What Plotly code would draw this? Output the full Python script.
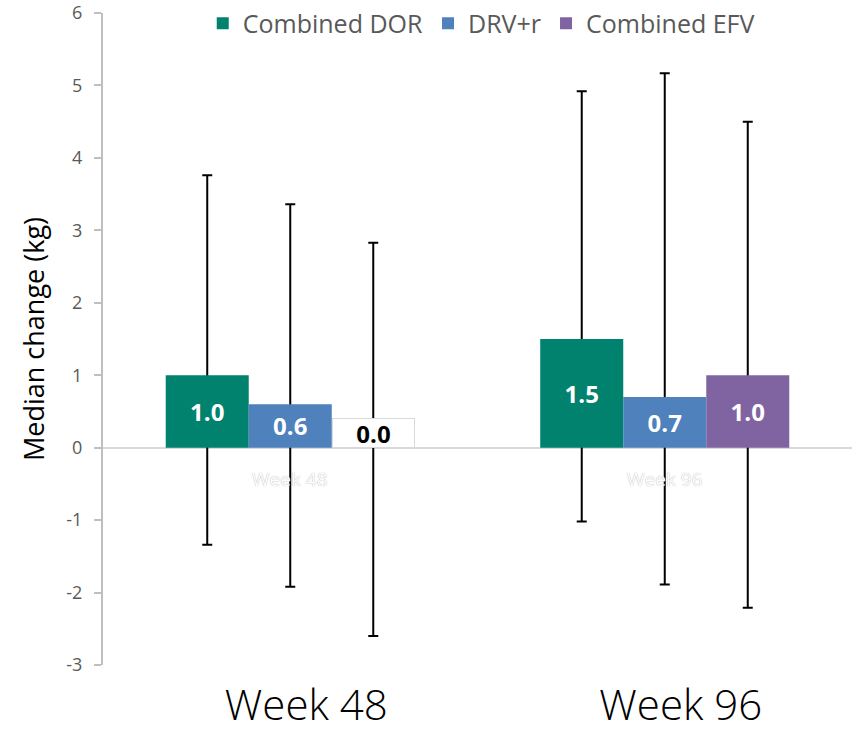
import plotly.graph_objects as go

categories = ["Week 48", "Week 96"]
series_names = ["Combined DOR", "DRV+r", "Combined EFV"]
dor_values = [1.0, 1.5]
drv_values = [0.6, 0.7]
efv_values = [0.0, 1.0]
dor_upper = [3.76, 4.92]
dor_lower = [-1.34, -1.02]
drv_upper = [3.36, 5.17]
drv_lower = [-1.92, -1.89]
efv_upper = [2.83, 4.50]
efv_lower = [-2.60, -2.21]
bar_labels_dor = ["1.0", "1.5"]
bar_labels_drv = ["0.6", "0.7"]
bar_labels_efv = ["", "1.0"]
zero_label = "0.0"
y_tick_values = [-3, -2, -1, 0, 1, 2, 3, 4, 5, 6]
y_tick_labels = ["-3", "-2", "-1", "0", "1", "2", "3", "4", "5", "6"]

colors = ["#00826F", "#4F81BD", "#8064A2"]
values = [dor_values, drv_values, efv_values]
uppers = [dor_upper, drv_upper, efv_upper]
lowers = [dor_lower, drv_lower, efv_lower]
labels = [bar_labels_dor, bar_labels_drv, bar_labels_efv]

FONT = "Open Sans"
fig = go.Figure()

# error bars drawn first (behind bars)
for i, (vals, up, lo) in enumerate(zip(values, uppers, lowers)):
    fig.add_trace(go.Bar(
        x=categories, y=vals, offsetgroup=str(i), showlegend=False,
        marker=dict(color="rgba(0,0,0,0)", line=dict(width=0)),
        hoverinfo="skip",
        error_y=dict(type="data", symmetric=False,
                     array=[u - v for u, v in zip(up, vals)],
                     arrayminus=[v - l for v, l in zip(vals, lo)],
                     color="black", thickness=2, width=5),
    ))

for i, (name, vals, lab) in enumerate(zip(series_names, values, labels)):
    fig.add_trace(go.Bar(
        x=categories, y=vals, name=name, offsetgroup=str(i),
        marker=dict(color=colors[i], line=dict(width=0)),
        text=lab, textposition="inside", insidetextanchor="middle",
        textangle=0, constraintext="none",
        textfont=dict(family=FONT, size=24, color="white", weight="bold"),
    ))

# white label box for the zero-height bar
fig.add_annotation(
    x=categories[0], y=efv_values[0], xref="x", yref="y",
    text="<b>" + zero_label + "</b>", showarrow=False,
    xshift=83, yanchor="bottom", width=79, height=26,
    bgcolor="white", bordercolor="#d9d9d9", borderwidth=1,
    font=dict(family=FONT, size=24, color="black"),
)

# faint ghost category labels
for c in categories:
    fig.add_annotation(
        x=c, y=-0.43, xref="x", yref="y", text=c, showarrow=False,
        font=dict(family=FONT, size=19, color="white",
                  shadow="0px 0px 1px #999999"),
    )

fig.update_layout(
    width=856, height=733,
    margin=dict(l=103, r=4, t=13, b=68, autoexpand=False),
    paper_bgcolor="white", plot_bgcolor="white",
    barmode="group", bargap=0.335, bargroupgap=0,
    showlegend=True,
    legend=dict(orientation="h", x=0.505, xanchor="center",
                y=1 - 10.5 / 652, yanchor="middle",
                font=dict(family=FONT, size=25, color="#595959"),
                bgcolor="rgba(255,255,255,0)", traceorder="normal"),
    font=dict(family=FONT),
)
fig.update_xaxes(
    showline=False, showgrid=False, ticks="", automargin=False,
    tickfont=dict(family=FONT, size=42, color="black", weight=300),
    ticklabelstandoff=12, ticklabelshift=16,
)
fig.update_yaxes(
    range=[-3, 6], tickvals=y_tick_values, ticktext=y_tick_labels,
    automargin=False, ticklabeloverflow="allow",
    showgrid=False, showline=True, linecolor="#bfbfbf", linewidth=2,
    ticks="outside", ticklen=7, tickcolor="#bfbfbf", tickwidth=2,
    ticklabelstandoff=8,
    tickfont=dict(family=FONT, size=18, color="#595959"),
    zeroline=True, zerolinecolor="#d9d9d9", zerolinewidth=2,
    title=dict(text="Median change (kg)", standoff=14,
               font=dict(family=FONT, size=27, color="black")),
)

fig.write_html("out.html",
               config={"displayModeBar": False},
               post_script="document.body.style.margin='0';")
